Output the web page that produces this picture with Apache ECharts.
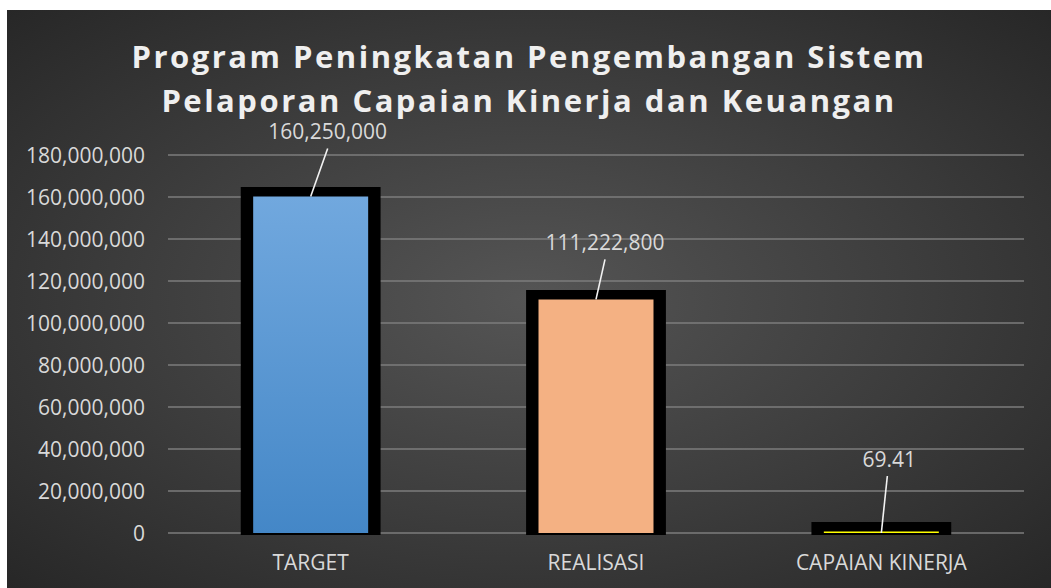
<!DOCTYPE html>
<html>
<head>
<meta charset="utf-8">
<script src="https://cdn.jsdelivr.net/npm/echarts@6/dist/echarts.min.js"></script>
<style>
  html, body { margin: 0; padding: 0; background: #ffffff; width: 1051px; height: 588px; overflow: hidden; }
  #chart {
    position: absolute; left: 7px; top: 10px; width: 1044px; height: 578px;
    background: radial-gradient(ellipse at 50% 50%, #555555 0%, #3c3c3c 55%, #272727 100%);
  }
</style>
</head>
<body>
<div id="chart"></div>
<script>
// ---- data ----
const titleLines = ['Program Peningkatan Pengembangan Sistem', 'Pelaporan Capaian Kinerja dan Keuangan'];
const categories = ['TARGET', 'REALISASI', 'CAPAIAN KINERJA'];
const values = [160250000, 111222800, 69.41];
const yTicks = { min: 0, max: 180000000, interval: 20000000 };

// ---- styles ----
const fills = [
  { type: 'linear', x: 0, y: 0, x2: 0, y2: 1, colorStops: [{ offset: 0, color: '#71a8de' }, { offset: 1, color: '#4487c7' }] },
  '#f4b183',
  '#ffff00'
];
// label centre / leader start offsets relative to bar-top centre (px)
const labelOffsets = [[17, -65], [9, -57], [8, -74]];
const leaderStarts = [[17, -48], [9, -40], [6, -57]];
const textColor = '#d9d9d9';
const fontFamily = "'Open Sans', sans-serif";

function fmt(v) {
  return Number(v).toLocaleString('en-US', { maximumFractionDigits: 2 });
}

const chart = echarts.init(document.getElementById('chart'), null, { renderer: 'svg' });

const option = {
  animation: false,
  backgroundColor: 'transparent',
  title: {
    text: titleLines.join('\n'),
    left: 'center',
    top: 24,
    padding: 0,
    textStyle: {
      color: '#efefef',
      fontFamily: fontFamily,
      fontWeight: 'bold',
      fontSize: 31,
      lineHeight: 44
    }
  },
  grid: { left: 161, right: 27, top: 145, bottom: 55, containLabel: false },
  xAxis: {
    type: 'category',
    data: categories,
    axisLine: { show: false },
    axisTick: { show: false },
    axisLabel: { color: textColor, fontFamily: fontFamily, fontSize: 21, margin: 18 }
  },
  yAxis: {
    type: 'value',
    min: yTicks.min,
    max: yTicks.max,
    interval: yTicks.interval,
    axisLine: { show: false },
    axisTick: { show: false },
    axisLabel: { color: textColor, fontFamily: fontFamily, fontSize: 21, margin: 23, formatter: fmt },
    splitLine: { lineStyle: { color: '#7c7c7c', width: 1.5 } }
  },
  series: [{
    type: 'custom',
    clip: false,
    data: categories.map((c, i) => [i, values[i]]),
    renderItem: function (params, api) {
      const i = params.dataIndex;
      const v = api.value(1);
      const top = api.coord([api.value(0), v]);
      const base = api.coord([api.value(0), 0]);
      const band = api.size([1, 0])[0];
      const fw = band * 0.403;
      const ow = band * 0.49;
      const cx = top[0];
      const h = Math.max(base[1] - top[1], 1.5);
      const ty = base[1] - h;
      const lo = labelOffsets[i], ls = leaderStarts[i];
      return {
        type: 'group',
        children: [
          { type: 'rect', shape: { x: cx - ow / 2, y: ty - 9.5, width: ow, height: h + 9.5 + 2 }, style: { fill: '#000000' } },
          { type: 'rect', shape: { x: cx - fw / 2, y: ty, width: fw, height: h }, style: { fill: fills[i] } },
          { type: 'line', shape: { x1: cx + ls[0], y1: top[1] + ls[1], x2: cx, y2: top[1] }, style: { stroke: '#f2f2f2', lineWidth: 1.6 } },
          { type: 'text', style: { text: fmt(v), x: cx + lo[0], y: top[1] + lo[1], align: 'center', verticalAlign: 'middle', fill: textColor, font: "21px 'Open Sans', sans-serif" } }
        ]
      };
    }
  }]
};
chart.setOption(option);

function spaceTitle() {
  const texts = document.querySelectorAll('#chart svg text');
  texts.forEach(t => {
    if (titleLines.indexOf(t.textContent) >= 0) {
      t.style.letterSpacing = '2.5px';
    }
  });
}
spaceTitle();
chart.on('finished', spaceTitle);
setTimeout(spaceTitle, 50);
</script>
</body>
</html>
